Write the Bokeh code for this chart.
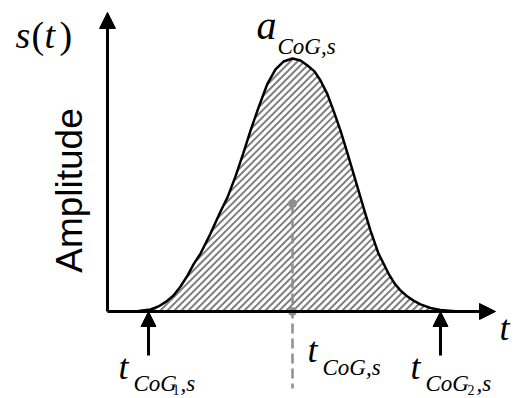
import math
import numpy as np
from bokeh.plotting import figure
from bokeh.models import Range1d, Label, Arrow, NormalHead
from bokeh.embed import file_html
from bokeh.resources import INLINE

# Pulse s(t): time samples (arbitrary units) and normalised amplitude
t_curve = [18, 31, 43, 51, 59, 66, 73, 80, 86, 93, 103, 113, 120, 128, 136, 143,
           151, 160, 168, 176, 185, 193, 200, 207, 213, 220, 226, 233, 240, 248,
           256, 263, 271, 281, 287, 293, 300, 306, 313, 323, 333, 348]
amp_curve = [0.0, 0.002, 0.008, 0.020, 0.040, 0.063, 0.099, 0.142, 0.186, 0.229,
             0.308, 0.395, 0.451, 0.534, 0.628, 0.715, 0.806, 0.901, 0.957, 0.988,
             1.000, 0.992, 0.972, 0.949, 0.913, 0.858, 0.794, 0.715, 0.625, 0.518,
             0.411, 0.320, 0.229, 0.150, 0.111, 0.083, 0.059, 0.043, 0.028, 0.014,
             0.006, 0.001]

# Characteristic instants and the centre-of-gravity point
t_cog1 = 41
t_cog2 = 333
t_cog = 185
amp_cog_point = 0.427

# Axis extents (data units)
t_axis_end = 388
amp_axis_end = 1.182
marker_arrow_start = -0.174
dash_bottom = -0.304

W, H = 514, 398
PX_PER_AMP = 253  # vertical pixels per amplitude unit (1 px per time unit)
p = figure(width=W, height=H, x_range=Range1d(-107, 407),
           y_range=Range1d(-(H - 311) / PX_PER_AMP, 311 / PX_PER_AMP),
           x_axis_type=None, y_axis_type=None,
           output_backend="svg", toolbar_location=None,
           min_border=0, min_border_left=0, min_border_right=0,
           min_border_top=0, min_border_bottom=0)
p.grid.visible = False
p.outline_line_color = None
p.background_fill_color = "white"

# 45-degree hatching under the pulse, clipped to the area below the curve
tc = np.asarray(t_curve, dtype=float)
ac = np.asarray(amp_curve, dtype=float)
HATCH_STEP = 7.0
c_min = np.min(tc - ac * PX_PER_AMP) - HATCH_STEP
x0s, y0s, x1s, y1s = [], [], [], []
for c in np.arange(c_min, tc[-1], HATCH_STEP):
    ts = np.arange(max(c, tc[0]), tc[-1] + 1, 0.2)
    ys = (ts - c) / PX_PER_AMP
    inside = ys <= np.interp(ts, tc, ac, left=0, right=0)
    idx = np.flatnonzero(np.diff(np.concatenate([[0], inside.astype(int), [0]])))
    for s, e in zip(idx[::2], idx[1::2]):
        if e - 1 > s:
            x0s.append(ts[s]); y0s.append(ys[s])
            x1s.append(ts[e - 1]); y1s.append(ys[e - 1])
p.segment(x0s, y0s, x1s, y1s, line_color="#808080", line_width=2)

# centre-of-gravity marker line and points
gray = "#8e8e8e"
p.line([t_cog, t_cog], [amp_cog_point, dash_bottom], line_color=gray,
       line_width=2.5, line_dash="10 5")
p.scatter([t_cog, t_cog], [amp_cog_point, 0], size=8, color=gray)

# pulse outline
p.line(t_curve, amp_curve, line_color="black", line_width=2.5)

# axes with arrow heads
def arrow(x0, y0, x1, y1, size, lw):
    p.add_layout(Arrow(end=NormalHead(size=size, fill_color="black", line_color="black"),
                       x_start=x0, y_start=y0, x_end=x1, y_end=y1,
                       line_color="black", line_width=lw))

arrow(0, 0, t_axis_end, 0, 16, 3)
arrow(0, 0, 0, amp_axis_end, 16, 3)
arrow(t_cog1, marker_arrow_start, t_cog1, 0, 15, 3)
arrow(t_cog2, marker_arrow_start, t_cog2, 0, 15, 3)

SERIF = "Liberation Serif"
BASE_SHIFT = 0.42  # baseline correction, fraction of font size

def txt(x, y, s, size, style="italic", font=SERIF, angle=0, align="left"):
    if angle:
        x = x - BASE_SHIFT * size
    else:
        y = y - BASE_SHIFT * size
    p.add_layout(Label(x=x, y=H - y, x_units="screen", y_units="screen", text=s,
                       text_font=font, text_font_style=style,
                       text_font_size=f"{size}px", text_baseline="alphabetic",
                       text_align=align, angle=angle, text_color="black"))

SUB = 23

# s(t)
txt(15, 50, "s", 38)
txt(31, 50, "(", 38, "normal")
txt(44, 50, "t", 38)
txt(59, 50, ")", 38, "normal")

# Amplitude
txt(85, 190, "Amplitude", 37, "normal", "Liberation Sans", math.pi / 2, "center")

# a_CoG,s at the peak
txt(256, 42, "a", 40)
txt(277, 56, "CoG,s", SUB)

# t_CoG,s
txt(307, 365, "t", 36)
txt(322, 377, "CoG,s", SUB)

# t_CoG1,s
txt(118, 382, "t", 36)
txt(133, 393, "CoG", SUB)
txt(172, 395, "1", 14, "normal")
txt(180, 393, ",s", SUB)

# t_CoG2,s
txt(410, 382, "t", 36)
txt(425, 393, "CoG", SUB)
txt(467, 395, "2", 14, "normal")
txt(476, 393, ",s", SUB)

# time axis label
txt(499, 343, "t", 36)

open("out.html", "w").write(file_html(p, INLINE))
